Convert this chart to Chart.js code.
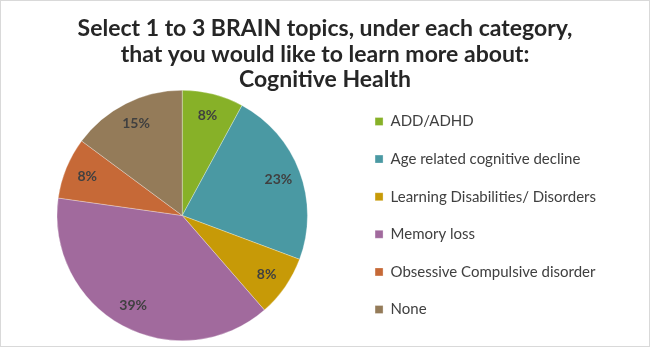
<!DOCTYPE html>
<html>
<head>
<meta charset="utf-8">
<script src="https://cdn.jsdelivr.net/npm/chart.js@4"></script>
<style>
  html, body { margin: 0; padding: 0; background: #fff; }
  #wrap { width: 650px; height: 347px; }
</style>
</head>
<body>
<div id="wrap"><canvas id="pie" width="650" height="347"></canvas></div>
<script>
const topics = ['ADD/ADHD', 'Age related cognitive decline', 'Learning Disabilities/ Disorders', 'Memory loss', 'Obsessive Compulsive disorder', 'None'];
const shares = [8, 23, 8, 39, 8, 15];
const sliceColors = ['#87b128', '#4a99a3', '#c79a07', '#a16a9d', '#c66937', '#947b59'];
const titleLines = ['Select 1 to 3 BRAIN topics, under each category,', 'that you would like to learn more about:', 'Cognitive Health'];

// white background, thin grey frame and the centred heading
const frame = {
  id: 'frame',
  beforeDraw(chart) {
    const ctx = chart.ctx;
    ctx.save();
    ctx.fillStyle = '#fff';
    ctx.fillRect(0, 0, chart.width, chart.height);
    ctx.strokeStyle = '#d9d9d9';
    ctx.lineWidth = 1;
    ctx.strokeRect(0.5, 0.5, chart.width - 1, chart.height - 1);
    ctx.font = 'bold 23px Lato, sans-serif';
    ctx.fillStyle = '#262626';
    ctx.textAlign = 'center';
    ctx.textBaseline = 'middle';
    titleLines.forEach((line, i) => ctx.fillText(line, chart.width / 2, 29 + i * 25.5));
    ctx.restore();
  }
};

// percent text inside each slice
const sliceLabels = {
  id: 'sliceLabels',
  afterDatasetsDraw(chart) {
    const ctx = chart.ctx;
    const meta = chart.getDatasetMeta(0);
    ctx.save();
    ctx.font = 'bold 14px Lato, sans-serif';
    ctx.fillStyle = '#404040';
    ctx.textAlign = 'center';
    ctx.textBaseline = 'middle';
    meta.data.forEach((arc, i) => {
      const p = arc.getProps(['x', 'y', 'startAngle', 'endAngle', 'outerRadius'], true);
      const mid = (p.startAngle + p.endAngle) / 2;
      const r = p.outerRadius * 0.82;
      ctx.fillText(shares[i] + '%', p.x + Math.cos(mid) * r, p.y + Math.sin(mid) * r);
    });
    ctx.restore();
  }
};

new Chart(document.getElementById('pie'), {
  type: 'pie',
  data: {
    labels: topics,
    datasets: [{
      data: shares,
      backgroundColor: sliceColors,
      borderColor: 'rgba(255,255,255,0.6)',
      borderWidth: 0.5
    }]
  },
  options: {
    responsive: false,
    animation: false,
    layout: { padding: { left: 12, right: 44, top: 90, bottom: 6 } },
    plugins: {
      tooltip: { enabled: false },
      title: { display: false },
      legend: {
        position: 'right',
        align: 'center',
        labels: {
          color: '#404040',
          font: { family: 'Lato, sans-serif', size: 15 },
          boxWidth: 8,
          boxHeight: 8,
          padding: 22.6
        }
      }
    }
  },
  plugins: [frame, sliceLabels]
});
</script>
</body>
</html>
